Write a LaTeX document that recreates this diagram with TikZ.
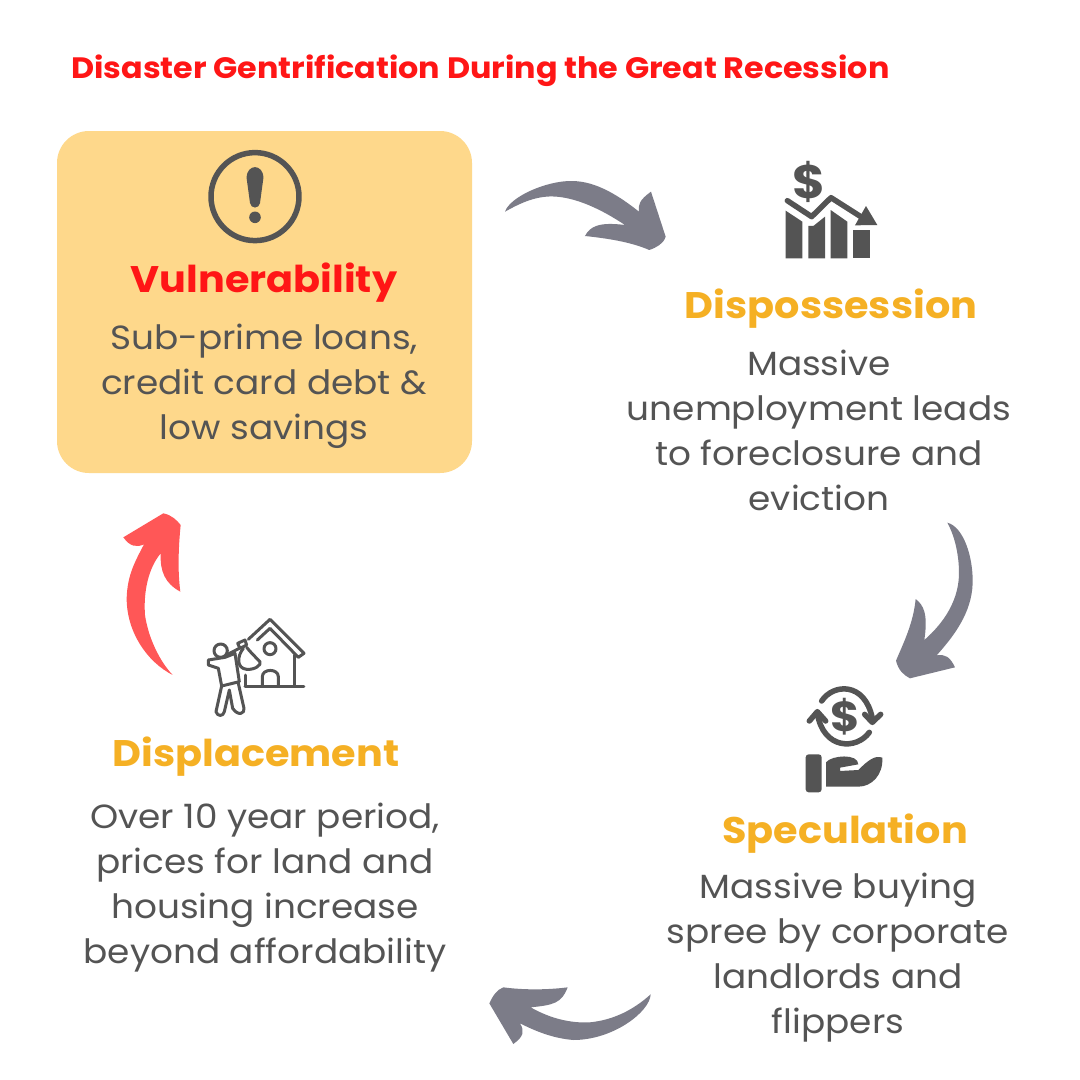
\documentclass[tikz,border=0pt]{standalone}
\usepackage{fontspec}
\setmainfont{Poppins}[FakeStretch=1.07]
\newfontfamily\titlefont{Poppins}[FakeStretch=1.078]
\newfontfamily\headfont{Poppins}[FakeStretch=1.075]
\definecolor{bodygrey}{HTML}{545454}
\definecolor{arrowgrey}{HTML}{7C7C88}
\definecolor{headamber}{HTML}{F5B024}
\definecolor{panelamber}{HTML}{FED88B}
\definecolor{redhead}{HTML}{FF1616}
\definecolor{arrowred}{HTML}{FF5757}
\tikzset{
 bodytext/.style={align=center,text=bodygrey,font=\fontsize{33.5}{45}\selectfont,inner sep=0pt},
 headtext/.style={text=headamber,font=\headfont\fontsize{37}{44}\selectfont\bfseries,inner sep=0pt},
 icon/.style={draw=bodygrey,line cap=round,line join=round},
}
\begin{document}
\begin{tikzpicture}[x=1pt,y=-1pt]
\useasboundingbox[fill=white] (0,0) rectangle (1080,1080);
\node[anchor=west,text=redhead,inner sep=0pt,font=\titlefont\fontsize{29.5}{36}\selectfont\bfseries] (title) at (71,71) {Disaster Gentrification During the Great Recession};
\fill[panelamber,rounded corners=32pt] (57,131) rectangle (472,473);
% alert icon
\draw[icon,line width=5.5pt] (255,196.6) circle (44);
\fill[bodygrey] (246.6,178) .. controls (246.6,163.5) and (263.4,163.5) .. (263.4,178) -- (260,203) .. controls (259.5,209) and (250.5,209) .. (250,203) -- cycle;
\fill[bodygrey] (255,217.3) circle (5.8);
\node[headtext,text=redhead] (vuln) at (264,282.5) {Vulnerability};
\node[bodytext] (vulnb) at (264,386.5) {Sub-prime loans,\\credit card debt \&\\low savings};
\node[headtext] (disp) at (831,308.5) {Dispossession};
\node[bodytext] (dispb) at (819,430.5) {Massive\\unemployment leads\\to foreclosure and\\eviction};
\node[headtext] (spec) at (845,833.5) {Speculation};
\node[bodytext] (specb) at (838,957.5) {Massive buying\\spree by corporate\\landlords and\\flippers};
\node[headtext] (displ) at (256,756.5) {Displacement};
\node[bodytext] (displb) at (265,888) {Over 10 year period,\\prices for land and\\housing increase\\beyond affordability};
% arrow 1
\begin{scope}[shift={(490,170)},x=.3333pt,y=-.3333pt]
\fill[arrowgrey] (45,125) .. controls (60,80) and (170,32) .. (245,33) .. controls (320,33) and (390,80) .. (447,125) .. controls (444,105) and (448,90) .. (483,65) -- (527,200) .. controls (520,222) and (500,232) .. (478,240) .. controls (420,215) and (350,205) .. (285,198) .. controls (300,170) and (325,155) .. (405,165) .. controls (330,115) and (260,85) .. (200,80) .. controls (140,75) and (90,100) .. (45,125) -- cycle;
\end{scope}
% arrow 2
\begin{scope}[shift={(880,510)},x=.3333pt,y=-.3333pt]
\fill[arrowgrey] (202,38) .. controls (250,50) and (280,140) .. (278,220) .. controls (275,310) and (220,380) .. (170,436) .. controls (195,432) and (210,440) .. (225,472) -- (90,505) .. controls (70,495) and (55,480) .. (48,452) .. controls (70,400) and (100,340) .. (107,267) .. controls (130,285) and (145,310) .. (133,390) .. controls (190,340) and (240,270) .. (237,180) .. controls (235,120) and (220,70) .. (202,38) -- cycle;
\end{scope}
% arrow 3
\begin{scope}[shift={(480,975)},x=.3333pt,y=-.3333pt]
\fill[arrowgrey] (512,58) .. controls (510,110) and (400,195) .. (280,195) .. controls (220,190) and (170,170) .. (120,145) .. controls (135,170) and (130,185) .. (100,207) -- (28,85) .. controls (40,60) and (50,45) .. (70,37) .. controls (130,45) and (200,45) .. (263,37) .. controls (245,85) and (220,90) .. (152,97) .. controls (210,130) and (270,145) .. (330,142) .. controls (400,135) and (460,105) .. (512,58) -- cycle;
\end{scope}
% arrow 4
\begin{scope}[shift={(110,505)},x=.3333pt,y=-.3333pt]
\fill[arrowred] (188,510) .. controls (110,470) and (50,380) .. (50,280) .. controls (52,210) and (75,170) .. (102,118) .. controls (80,128) and (60,125) .. (40,97) -- (160,25) .. controls (185,30) and (200,45) .. (212,60) .. controls (205,130) and (203,200) .. (211,260) .. controls (165,235) and (150,200) .. (152,145) .. controls (115,190) and (100,260) .. (105,330) .. controls (115,400) and (150,470) .. (188,510) -- cycle;
\end{scope}
% chart icon
\begin{scope}[shift={(770,150)},x=.3333pt,y=-.3333pt]
\fill[bodygrey] (47,182) -- (97,215) -- (97,325) -- (47,325) -- cycle;
\fill[bodygrey] (115,228) -- (130,228) -- (165,200) -- (165,325) -- (115,325) -- cycle;
\fill[bodygrey] (182,180) -- (232,215) -- (232,325) -- (182,325) -- cycle;
\fill[bodygrey] (250,240) -- (300,240) -- (300,325) -- (250,325) -- cycle;
\draw[icon,line width=5.5pt] (52,152) -- (125,200) -- (183,143) -- (285,208);
\fill[bodygrey] (288,168) -- (322,225) -- (255,226) -- cycle;
\node[inner sep=0pt,text=bodygrey,font=\fontsize{47}{47}\selectfont\bfseries] (dollara) at (116,97) {\$};
\end{scope}
% exchange icon
\begin{scope}[shift={(790,675)},x=.3333pt,y=-.3333pt]
\draw[icon,line width=5.5pt] (95,78) .. controls (130,25) and (225,20) .. (247,130);
\draw[icon,line width=5.5pt] (224,118) -- (247,142) -- (272,118);
\draw[icon,line width=5.5pt] (238,172) .. controls (200,225) and (100,225) .. (82,115);
\draw[icon,line width=5.5pt] (58,138) -- (82,110) -- (107,138);
\node[inner sep=0pt,text=bodygrey,font=\fontsize{42}{42}\selectfont\bfseries] (dollarb) at (165,125) {\$};
\fill[bodygrey,rounded corners=3pt] (47,238) rectangle (95,352);
\fill[bodygrey] (108,262) .. controls (125,240) and (205,235) .. (205,268) -- (150,278) -- (150,288) -- (205,285) .. controls (235,255) and (255,240) .. (277,248) .. controls (280,300) and (245,335) .. (205,335) -- (108,335) -- cycle;
\end{scope}
% house icon
\begin{scope}[shift={(180,600)},x=.3333pt,y=-.3333pt]
\draw[icon,line width=3pt] (205,118) -- (270,58) -- (372,160) -- (355,172) -- (270,85) -- (232,120);
\draw[icon,line width=3pt] (345,165) -- (345,258);
\draw[icon,line width=3pt] (195,258) -- (372,258);
\draw[icon,line width=3pt] (197,225) -- (197,258);
\draw[icon,line width=3pt] (270,146) circle (18);
\draw[icon,line width=3pt] (247,258) -- (247,230) .. controls (247,205) and (295,205) .. (295,230) -- (295,258);
\draw[icon,line width=3pt] (122,152) circle (20);
\draw[icon,line width=3pt] (145,162) -- (178,145);
\draw[icon,line width=3pt] (173,130) -- (195,120) -- (200,135) -- (180,145) -- cycle;
\draw[icon,line width=3pt] (190,145) .. controls (170,170) and (170,205) .. (200,208) .. controls (225,210) and (245,195) .. (240,185) .. controls (225,170) and (210,155) .. (200,142);
\draw[icon,line width=3pt] (85,180) -- (135,172) -- (165,160) -- (178,245) -- (125,258) -- (115,205) -- (85,195) -- cycle;
\draw[icon,line width=3pt] (125,258) -- (108,335) .. controls (112,350) and (130,350) .. (133,335) -- (148,270) -- (158,325) .. controls (175,350) and (195,340) .. (192,325) -- (175,250);
\end{scope}
\end{tikzpicture}
\end{document}
